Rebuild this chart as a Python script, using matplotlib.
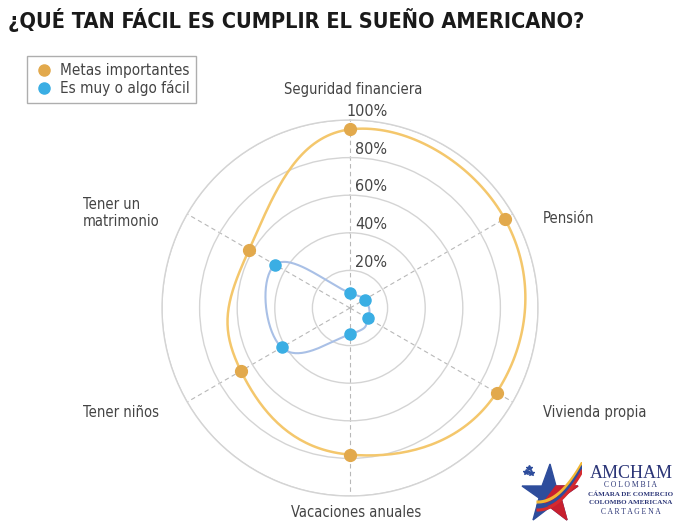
import numpy as np
import matplotlib.pyplot as plt
from matplotlib.lines import Line2D
from matplotlib.patches import Polygon

plt.rcParams['font.family'] = ['DejaVu Sans']
plt.rcParams['font.stretch'] = 'condensed'

# data (percent)
categories = ["Seguridad financiera", "Pensión", "Vivienda propia",
              "Vacaciones anuales", "Tener niños", "Tener un\nmatrimonio"]
metas = [95, 95, 90, 78, 67, 62]
facil = [8, 9, 11, 14, 42, 46]
rticks = [20, 40, 60, 80, 100]
rlabels = ["20%", "40%", "60%", "80%", "100%"]
series_names = ["Metas importantes", "Es muy o algo fácil"]

ORANGE = '#e2a94c'
ORANGE_LINE = '#f4c76c'
BLUE = '#3aaee4'
BLUE_LINE = '#a9c0e6'
TXT = '#444444'


def smooth_closed(theta, r, n=40, s=0.65):
    # closed hermite curve through the points, worked out in x/y
    x = r * np.sin(theta)
    y = r * np.cos(theta)
    P = np.column_stack([x, y])
    k = len(P)
    M = s * (np.roll(P, -1, axis=0) - np.roll(P, 1, axis=0))
    t = np.linspace(0, 1, n, endpoint=False)[:, None]
    h00 = 2 * t ** 3 - 3 * t ** 2 + 1
    h10 = t ** 3 - 2 * t ** 2 + t
    h01 = -2 * t ** 3 + 3 * t ** 2
    h11 = t ** 3 - t ** 2
    segs = []
    for i in range(k):
        j = (i + 1) % k
        segs.append(h00 * P[i] + h10 * M[i] + h01 * P[j] + h11 * M[j])
    out = np.vstack(segs + [P[:1]])
    th = np.unwrap(np.arctan2(out[:, 0], out[:, 1]))
    return th, np.hypot(out[:, 0], out[:, 1])


angles = np.deg2rad(np.arange(len(categories)) * 60.0)

fig = plt.figure(figsize=(7, 5.26), dpi=100)
ax = fig.add_axes([162 / 700, 30 / 526, 376 / 700, 376 / 526], projection='polar')
ax.set_theta_zero_location('N')
ax.set_theta_direction(-1)
ax.set_ylim(0, 100)
ax.set_yticks(rticks)
ax.set_yticklabels([])
ax.set_xticks(angles)
ax.set_xticklabels([])
ax.xaxis.grid(True, linestyle=(0, (4, 3)), color='#b8b8b8', linewidth=0.8)
ax.yaxis.grid(True, linestyle='-', color='#d4d4d4', linewidth=1.0)
ax.spines['polar'].set_color('#d4d4d4')
ax.spines['polar'].set_linewidth(1.0)

th, rr = smooth_closed(angles, np.array(metas, float))
ax.plot(th, rr, color=ORANGE_LINE, linewidth=1.8, zorder=3)
ax.plot(angles, metas, 'o', color=ORANGE, markersize=8.5, zorder=4)

th, rr = smooth_closed(angles, np.array(facil, float), s=0.7)
ax.plot(th, rr, color=BLUE_LINE, linewidth=1.5, zorder=3)
ax.plot(angles, facil, 'o', color=BLUE, markersize=8, zorder=4)

for v, lab in zip(rticks, rlabels):
    ax.annotate(lab, xy=(0, v), xytext=(27, 6), textcoords='offset points',
                ha='right', va='center', fontsize=11.5, color=TXT)

# category labels, placed in axes fraction
label_pos = [(0.508, 1.080, 'center'), (1.013, 0.737, 'left'), (1.013, 0.223, 'left'),
             (0.516, -0.045, 'center'), (-0.210, 0.223, 'left'), (-0.210, 0.753, 'left')]
for name, (px, py, ha) in zip(categories, label_pos):
    ax.text(px, py, name, transform=ax.transAxes, ha=ha, va='center',
            fontsize=10.5, color=TXT, linespacing=1.2, clip_on=False)

fig.text(8 / 700, 1 - 28 / 526, "¿QUÉ TAN FÁCIL ES CUMPLIR EL SUEÑO AMERICANO?",
         fontsize=15.6, fontweight='bold', color='#1a1a1a', va='baseline', ha='left')

handles = [Line2D([], [], linestyle='none', marker='o', color=ORANGE, markersize=8),
           Line2D([], [], linestyle='none', marker='o', color=BLUE, markersize=8)]
leg = fig.legend(handles, series_names, loc='upper left',
                 bbox_to_anchor=(27 / 700, 1 - 56 / 526), fontsize=11,
                 frameon=True, fancybox=False, handletextpad=0.4,
                 borderpad=0.45, labelspacing=0.15, handlelength=1.3,
                 borderaxespad=0, labelcolor=TXT)
leg.get_frame().set_edgecolor('#9a9a9a')
leg.get_frame().set_linewidth(1.0)

# AMCHAM logo, rough
lax = fig.add_axes([520 / 700, 4 / 526, 62 / 700, 60 / 526])
lax.set_xlim(0, 62)
lax.set_ylim(0, 60)
lax.axis('off')
star = np.array([[2, 36], [22, 36], [30, 58], [36, 36], [58, 36],
                 [41, 24], [47, 2], [30, 15], [13, 2], [19, 24]])
lax.add_patch(Polygon(star, closed=True, color='#2e4d9c'))
lax.add_patch(Polygon([[30, 15], [47, 2], [41, 24], [58, 36], [36, 36], [24, 20]],
                      closed=True, color='#c8202f'))
for off, c in [(0, '#f2b733'), (-4, '#2e4d9c'), (-8, '#d42a2f')]:
    xs = np.linspace(18, 62, 30)
    lax.plot(xs, 20 + off + 0.02 * (xs - 18) ** 2, color=c, linewidth=2.2)
lax.plot([6, 11, 9], [50, 49, 54], '*', color='#2e4d9c', markersize=4)

NAVY = '#2b3577'
fig.text(631 / 700, 1 - 474 / 526, "AMCHAM", family='Liberation Serif', fontsize=13,
         color=NAVY, ha='center', va='center')
fig.text(631 / 700, 1 - 485 / 526, "C O L O M B I A", family='Liberation Serif', fontsize=5.5,
         color=NAVY, ha='center', va='center')
fig.text(631 / 700, 1 - 494 / 526, "CÁMARA DE COMERCIO", family='Liberation Serif', fontsize=5,
         fontweight='bold', color=NAVY, ha='center', va='center')
fig.text(631 / 700, 1 - 502 / 526, "COLOMBO AMERICANA", family='Liberation Serif', fontsize=5,
         fontweight='bold', color=NAVY, ha='center', va='center')
fig.text(631 / 700, 1 - 512 / 526, "C A R T A G E N A", family='Liberation Serif', fontsize=5.5,
         color=NAVY, ha='center', va='center')

fig.savefig('out.png', dpi=100)
